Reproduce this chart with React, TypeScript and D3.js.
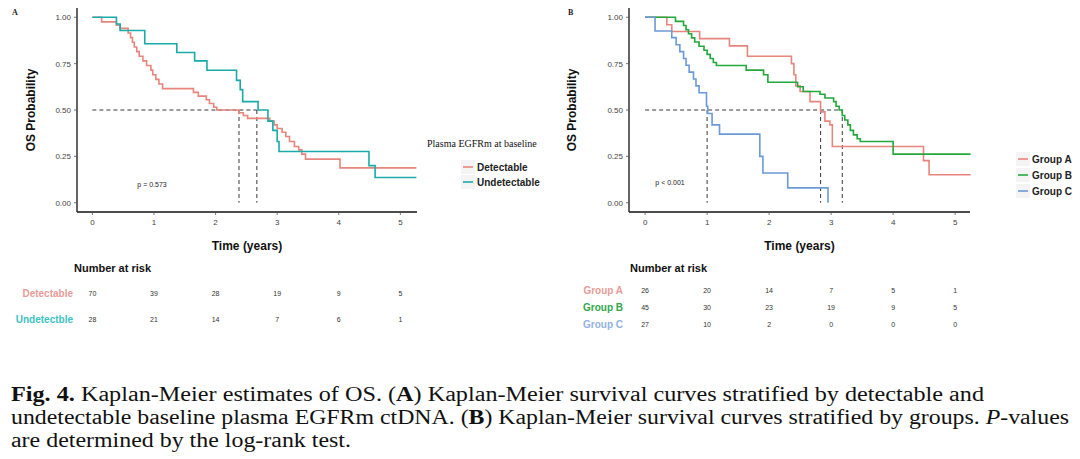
import React from 'react';
import * as d3 from 'd3';

type Pt = [number, number];

const timeTicks = [0, 1, 2, 3, 4, 5];
const probTicks = [0, 0.25, 0.5, 0.75, 1];
const probTickLabels = ['0.00', '0.25', '0.50', '0.75', '1.00'];

// Panel A: Kaplan-Meier step points [time, survival]
const detectable: Pt[] = [
  [0, 1], [0.15, 0.975], [0.39, 0.957], [0.45, 0.94], [0.58, 0.915], [0.62, 0.89], [0.65, 0.865],
  [0.68, 0.84], [0.72, 0.815], [0.76, 0.79], [0.82, 0.765], [0.88, 0.74], [0.95, 0.715], [0.98, 0.69],
  [1.03, 0.665], [1.08, 0.64], [1.14, 0.615], [1.64, 0.595], [1.72, 0.575], [1.85, 0.555], [1.9, 0.535],
  [1.97, 0.515], [2.02, 0.5], [2.38, 0.485], [2.45, 0.47], [2.52, 0.455], [2.88, 0.44], [2.95, 0.42],
  [3.0, 0.4], [3.08, 0.38], [3.14, 0.357], [3.2, 0.33], [3.28, 0.303], [3.35, 0.285], [3.4, 0.262],
  [3.46, 0.235], [4.02, 0.188],
];
const undetectable: Pt[] = [
  [0, 1], [0.39, 0.964], [0.45, 0.929], [0.85, 0.857], [1.37, 0.81], [1.66, 0.765], [1.86, 0.714],
  [2.34, 0.66], [2.4, 0.61], [2.44, 0.545], [2.69, 0.5], [2.85, 0.44], [2.93, 0.39], [3.0, 0.33],
  [3.03, 0.276], [4.49, 0.2], [4.59, 0.136],
];
const endA = 5.26;
const mediansA = [2.38, 2.67];
const riskDetectable = [70, 39, 28, 19, 9, 5];
const riskUndetectable = [28, 21, 14, 7, 6, 1];

// Panel B
const groupA: Pt[] = [
  [0, 1], [0.35, 0.96], [0.43, 0.923], [0.88, 0.885], [1.36, 0.846], [1.65, 0.79], [2.36, 0.75],
  [2.4, 0.69], [2.43, 0.63], [2.5, 0.6], [2.66, 0.545], [2.83, 0.49], [2.9, 0.44], [2.98, 0.42],
  [3.02, 0.303], [4.49, 0.227], [4.58, 0.151],
];
const groupB: Pt[] = [
  [0, 1], [0.49, 0.978], [0.62, 0.956], [0.66, 0.933], [0.7, 0.911], [0.75, 0.889], [0.8, 0.867],
  [0.87, 0.844], [0.95, 0.822], [1.0, 0.8], [1.05, 0.778], [1.1, 0.756], [1.15, 0.74], [1.63, 0.715],
  [1.91, 0.69], [1.98, 0.65], [2.46, 0.625], [2.55, 0.6], [2.82, 0.585], [2.9, 0.565], [3.04, 0.545],
  [3.08, 0.52], [3.13, 0.5], [3.18, 0.47], [3.22, 0.446], [3.27, 0.42], [3.31, 0.39], [3.36, 0.366],
  [3.42, 0.345], [3.47, 0.33], [4.0, 0.262],
];
const groupC: Pt[] = [
  [0, 1], [0.16, 0.926], [0.43, 0.89], [0.5, 0.852], [0.56, 0.815], [0.62, 0.778], [0.66, 0.741],
  [0.71, 0.704], [0.78, 0.667], [0.82, 0.63], [0.87, 0.593], [0.99, 0.52], [1.01, 0.481], [1.08, 0.42],
  [1.2, 0.37], [1.85, 0.25], [1.9, 0.16], [2.3, 0.08], [2.95, 0],
];
const endB = 5.25;
const mediansB = [1.0, 2.83, 3.18];
const riskGroupA = [26, 20, 14, 7, 5, 1];
const riskGroupB = [45, 30, 23, 19, 9, 5];
const riskGroupC = [27, 10, 2, 0, 0, 0];

const SANS = '"Liberation Sans", Arial, Helvetica, sans-serif';
const SERIF = '"Liberation Serif", "Times New Roman", serif';

interface Series {
  name: string;
  data: Pt[];
  end: number;
  color: string;
  labelColor: string;
  risk: number[];
  riskLabel: string;
}

interface PanelProps {
  letter: string;
  letterX: number;
  left: number;
  right: number;
  domain: [number, number];
  series: Series[];
  medians: number[];
  pText: string;
  pX: number;
  pY: number;
  riskRows: number[];
  riskLabelX: number;
  numberAtRiskX: number;
  yTitleX: number;
  legendTitle?: string;
  legendX: number;
  legendTextX: number;
  legendY: number[];
  legendTitleY?: number;
}

const top = 8;
const bottom = 212;

function Panel(p: PanelProps) {
  const xs = d3.scaleLinear().domain(p.domain).range([p.left, p.right]);
  const ys = d3.scaleLinear().domain([-0.05, 1.05]).range([bottom, top]);
  const line = d3
    .line<Pt>()
    .x((d) => xs(d[0]))
    .y((d) => ys(d[1]))
    .curve(d3.curveStepAfter);
  const maxMed = d3.max(p.medians) as number;
  const cx = (p.left + p.right) / 2;
  return (
    <g>
      <text x={p.letterX} y={15} fontFamily={SERIF} fontWeight="bold" fontSize={8} fill="#222">
        {p.letter}
      </text>
      {/* median lines */}
      <line x1={xs(0)} x2={xs(maxMed)} y1={ys(0.5)} y2={ys(0.5)} stroke="#222" strokeWidth={0.9} strokeDasharray="4,3" />
      {p.medians.map((m, i) => (
        <line key={i} x1={xs(m)} x2={xs(m)} y1={ys(0.5)} y2={ys(0)} stroke="#222" strokeWidth={0.9} strokeDasharray="4,3" />
      ))}
      {/* curves */}
      {p.series.map((s) => {
        const pts: Pt[] = [...s.data, [s.end, s.data[s.data.length - 1][1]]];
        return <path key={s.name} d={line(pts) || ''} fill="none" stroke={s.color} strokeWidth={1.6} />;
      })}
      {/* axes */}
      <line x1={p.left} x2={p.left} y1={top} y2={bottom} stroke="#111" strokeWidth={1.3} />
      <line x1={p.left} x2={p.right} y1={bottom} y2={bottom} stroke="#111" strokeWidth={1.3} />
      {probTicks.map((t, i) => (
        <g key={i}>
          <line x1={p.left - 3} x2={p.left} y1={ys(t)} y2={ys(t)} stroke="#555" strokeWidth={0.8} />
          <text x={p.left - 6} y={ys(t) + 3} textAnchor="end" fontFamily={SANS} fontSize={8} fill="#444">
            {probTickLabels[i]}
          </text>
        </g>
      ))}
      {timeTicks.map((t) => (
        <g key={t}>
          <line x1={xs(t)} x2={xs(t)} y1={bottom} y2={bottom + 3} stroke="#555" strokeWidth={0.8} />
          <text x={xs(t)} y={bottom + 13} textAnchor="middle" fontFamily={SANS} fontSize={8} fill="#444">
            {t}
          </text>
        </g>
      ))}
      <text
        transform={`translate(${p.yTitleX},${(top + bottom) / 2}) rotate(-90)`}
        textAnchor="middle"
        fontFamily={SANS}
        fontWeight="bold"
        fontSize={12}
        fill="#111"
      >
        OS Probability
      </text>
      <text x={cx} y={250} textAnchor="middle" fontFamily={SANS} fontWeight="bold" fontSize={12} fill="#111">
        Time (years)
      </text>
      <text x={p.pX} y={p.pY} textAnchor="middle" fontFamily={SANS} fontSize={7} fill="#222">
        {p.pText}
      </text>
      {/* legend */}
      {p.legendTitle && (
        <text x={p.legendTextX - 50} y={p.legendTitleY} fontFamily={SERIF} fontSize={10} fill="#111">
          {p.legendTitle}
        </text>
      )}
      {p.series.map((s, i) => (
        <g key={s.name}>
          <rect x={p.legendX - 2} y={p.legendY[i] - 7} width={14} height={14} fill="#f4f4f4" />
          <line x1={p.legendX} x2={p.legendX + 10} y1={p.legendY[i]} y2={p.legendY[i]} stroke={s.color} strokeWidth={1.6} />
          <text x={p.legendTextX} y={p.legendY[i] + 3.5} fontFamily={SANS} fontWeight="bold" fontSize={10} fill="#222">
            {s.name}
          </text>
        </g>
      ))}
      {/* risk table */}
      <text x={p.numberAtRiskX} y={272} fontFamily={SANS} fontWeight="bold" fontSize={11} fill="#111">
        Number at risk
      </text>
      {p.series.map((s, i) => (
        <g key={s.name}>
          <text x={p.riskLabelX} y={p.riskRows[i] + 3.5} textAnchor="end" fontFamily={SANS} fontWeight="bold" fontSize={10} fill={s.labelColor}>
            {s.riskLabel}
          </text>
          {s.risk.map((v, j) => (
            <text key={j} x={xs(timeTicks[j])} y={p.riskRows[i] + 2.5} textAnchor="middle" fontFamily={SANS} fontSize={7} fill="#333">
              {v}
            </text>
          ))}
        </g>
      ))}
    </g>
  );
}

export default function App() {
  const seriesA: Series[] = [
    { name: 'Detectable', data: detectable, end: endA, color: '#E8857D', labelColor: '#E89C97', risk: riskDetectable, riskLabel: 'Detectable' },
    { name: 'Undetectable', data: undetectable, end: endA, color: '#1AAAAA', labelColor: '#3CC2C2', risk: riskUndetectable, riskLabel: 'Undetectble' },
  ];
  const seriesB: Series[] = [
    { name: 'Group A', data: groupA, end: endB, color: '#E8857D', labelColor: '#E89C97', risk: riskGroupA, riskLabel: 'Group A' },
    { name: 'Group B', data: groupB, end: endB, color: '#23A83C', labelColor: '#2FA84A', risk: riskGroupB, riskLabel: 'Group B' },
    { name: 'Group C', data: groupC, end: 2.95, color: '#6A9AD8', labelColor: '#93B2E0', risk: riskGroupC, riskLabel: 'Group C' },
  ];
  return (
    <svg width={1080} height={459} style={{ position: 'absolute', left: 0, top: 0, background: '#fff', display: 'block' }}>
      <rect width={1080} height={459} fill="#fff" />
      <Panel
        letter="A"
        letterX={12}
        left={77}
        right={417}
        domain={[-0.25, 5.27]}
        series={seriesA}
        medians={mediansA}
        pText="p = 0.573"
        pX={152}
        pY={187}
        riskRows={[293, 319]}
        riskLabelX={73}
        numberAtRiskX={74}
        yTitleX={35}
        legendTitle="Plasma EGFRm at baseline"
        legendTitleY={147}
        legendX={463}
        legendTextX={477}
        legendY={[167, 182]}
      />
      <Panel
        letter="B"
        letterX={568}
        left={629}
        right={970}
        domain={[-0.26, 5.24]}
        series={seriesB}
        medians={mediansB}
        pText="p < 0.001"
        pX={670}
        pY={185}
        riskRows={[290, 307, 324]}
        riskLabelX={623}
        numberAtRiskX={630}
        yTitleX={576}
        legendX={1018}
        legendTextX={1032}
        legendY={[159, 175, 191]}
      />
      <g fontFamily={SERIF} fontSize={20} fill="#111">
        <text x={11} y={401} textLength={973} lengthAdjust="spacingAndGlyphs">
          <tspan fontWeight="bold">Fig. 4.</tspan>
          {'  Kaplan-Meier estimates of OS. ('}
          <tspan fontWeight="bold">A</tspan>
          {') Kaplan-Meier survival curves stratified by detectable and'}
        </text>
        <text x={11} y={424} textLength={1058} lengthAdjust="spacingAndGlyphs">
          {'undetectable baseline plasma EGFRm ctDNA. ('}
          <tspan fontWeight="bold">B</tspan>
          {') Kaplan-Meier survival curves stratified by groups. '}
          <tspan fontStyle="italic">P</tspan>
          {'-values'}
        </text>
        <text x={11} y={447} textLength={340} lengthAdjust="spacingAndGlyphs">
          are determined by the log-rank test.
        </text>
      </g>
    </svg>
  );
}
